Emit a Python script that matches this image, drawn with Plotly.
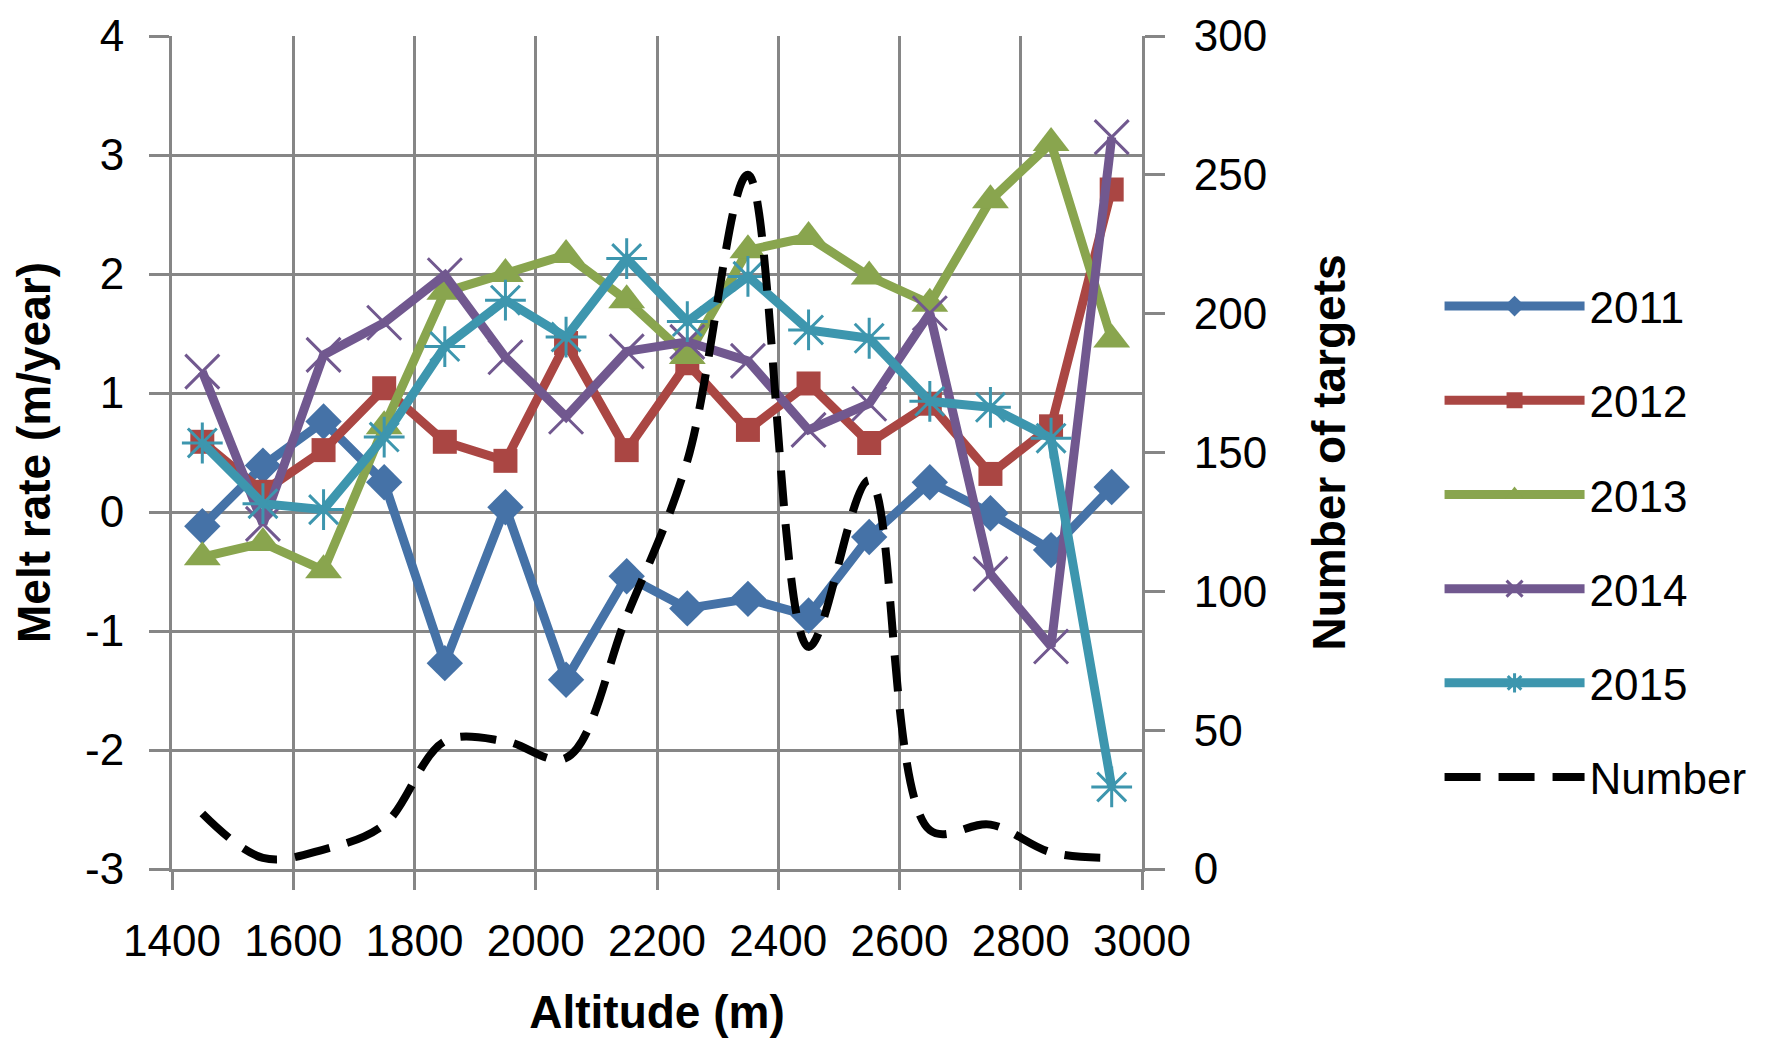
import plotly.graph_objects as go

altitude = [1450, 1550, 1650, 1750, 1850, 1950, 2050, 2150, 2250, 2350, 2450, 2550, 2650, 2750, 2850, 2950]
melt_2011 = [-0.12, 0.39, 0.76, 0.25, -1.27, 0.04, -1.41, -0.54, -0.81, -0.73, -0.87, -0.21, 0.25, -0.01, -0.32, 0.21]
melt_2012 = [0.59, 0.17, 0.52, 1.04, 0.59, 0.43, 1.42, 0.52, 1.25, 0.69, 1.08, 0.58, 0.91, 0.32, 0.72, 2.71]
melt_2013 = [-0.38, -0.26, -0.49, 0.72, 1.85, 2.0, 2.16, 1.78, 1.31, 2.2, 2.31, 1.98, 1.75, 2.62, 3.1, 1.45]
melt_2014 = [1.18, -0.1, 1.32, 1.59, 1.99, 1.3, 0.8, 1.35, 1.43, 1.27, 0.69, 0.91, 1.67, -0.52, -1.13, 3.15]
melt_2015 = [0.58, 0.07, 0.02, 0.63, 1.39, 1.78, 1.47, 2.13, 1.6, 1.98, 1.53, 1.46, 0.93, 0.88, 0.62, -2.31]
number_targets = [20, 4, 7, 16, 46, 46, 40, 91, 147, 250, 80, 140, 14, 16, 6, 4]

series_names = ["2011", "2012", "2013", "2014", "2015"]
series_values = [melt_2011, melt_2012, melt_2013, melt_2014, melt_2015]
y_tick_vals = [-3, -2, -1, 0, 1, 2, 3, 4]
y_tick_text = ["-3", "-2", "-1", "0", "1", "2", "3", "4"]

colors = ["#4572A7", "#AA4643", "#89A54E", "#71588F", "#3D96AE"]
symbols = ["diamond", "square", "triangle-up", "x-thin-open", "asterisk-open"]
sizes = [28, 24, 32, 34, 34]

FONT = "Liberation Sans"
GRID = "#868686"

fig = go.Figure()
for i, (name, vals) in enumerate(zip(series_names, series_values)):
    thin = symbols[i].endswith("open")
    fig.add_trace(go.Scatter(
        x=altitude, y=vals, name=name, mode="lines+markers",
        legendgroup=name,
        line=dict(color=colors[i], width=9),
        marker=dict(symbol=symbols[i], size=sizes[i], color=colors[i],
                    line=dict(color=colors[i], width=3 if thin else 0)),
    ))

fig.add_trace(go.Scatter(
    x=altitude, y=number_targets, name="Number", mode="lines", yaxis="y2",
    legendgroup="Number",
    line=dict(color="black", width=8, dash="36px,18px", shape="spline", smoothing=1.0),
))

fig.update_layout(
    width=1777, height=1030,
    margin=dict(l=164, r=643, t=28, b=169, autoexpand=False),
    paper_bgcolor="white", plot_bgcolor="white",
    font=dict(family=FONT, size=44, color="black"),
    showlegend=True,
    legend=dict(
        xref="container", yref="container", x=0.8056, y=0.7447,
        xanchor="left", yanchor="top", maxheight=900,
        font=dict(family=FONT, size=44, color="black"),
        tracegroupgap=34, itemwidth=140, bgcolor="rgba(0,0,0,0)",
    ),
    xaxis=dict(
        range=[1400, 3000], dtick=200, tick0=1400, automargin=False,
        showgrid=True, gridcolor=GRID, gridwidth=3,
        showline=True, linecolor=GRID, linewidth=3,
        ticks="outside", ticklen=18, tickwidth=3, tickcolor=GRID,
        ticklabelstandoff=13,
        zeroline=False,
        title=dict(text="<b>Altitude (m)</b>", font=dict(size=46), standoff=44),
    ),
    yaxis=dict(
        range=[-3, 4], tickvals=y_tick_vals, ticktext=y_tick_text, automargin=False,
        showgrid=True, gridcolor=GRID, gridwidth=3,
        showline=True, linecolor=GRID, linewidth=3,
        ticks="outside", ticklen=20, tickwidth=3, tickcolor=GRID,
        ticklabelstandoff=16,
        zeroline=False,
        title=dict(text="<b>Melt rate (m/year)</b>", font=dict(size=46), standoff=24),
    ),
    yaxis2=dict(
        range=[0, 300], dtick=50, overlaying="y", side="right", automargin=False,
        showgrid=False,
        showline=True, linecolor=GRID, linewidth=3,
        ticks="outside", ticklen=20, tickwidth=3, tickcolor=GRID,
        ticklabelstandoff=20,
        zeroline=False,
        title=dict(text="<b>Number of targets</b>", font=dict(size=46), standoff=47),
    ),
)

fig.write_html("out.html")
